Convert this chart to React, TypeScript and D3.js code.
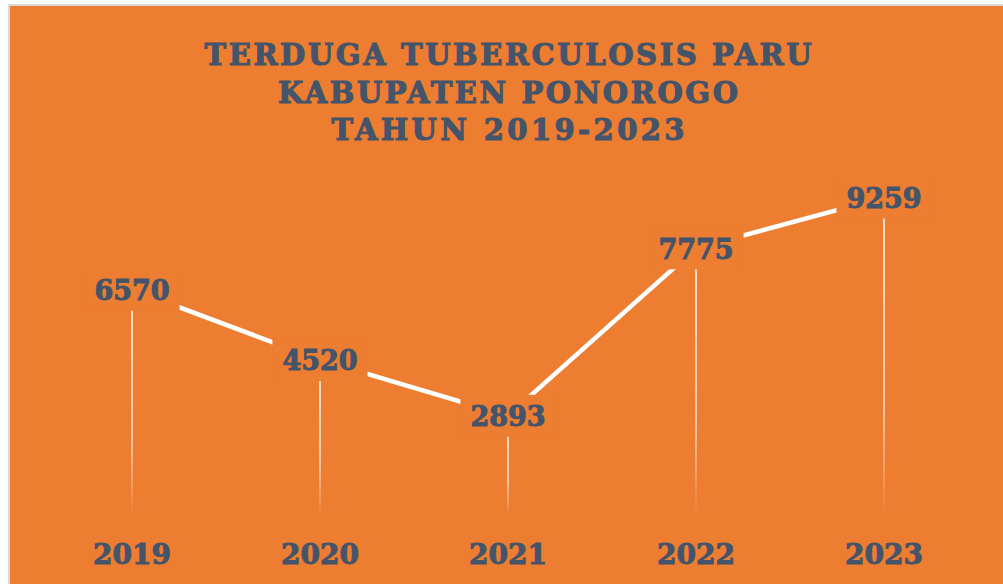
import * as d3 from 'd3';
import { useEffect, useRef } from 'react';

const years = ['2019', '2020', '2021', '2022', '2023'];
const values = [6570, 4520, 2893, 7775, 9259];
const titleLines = [
  'TERDUGA TUBERCULOSIS PARU',
  'KABUPATEN PONOROGO',
  'TAHUN 2019-2023',
];

const W = 1003;
const H = 584;
const ORANGE = '#ED7D31';
const INK = '#44546A';
const FONT = '"DejaVu Serif", serif';

export default function App() {
  const svgRef = useRef<SVGSVGElement>(null);

  useEffect(() => {
    if (!svgRef.current) return;
    const svg = d3.select(svgRef.current);
    svg.selectAll('*').remove();

    // chart frame
    svg.append('rect').attr('width', W).attr('height', H).attr('fill', '#fff');
    svg
      .append('rect')
      .attr('x', 9)
      .attr('y', 5)
      .attr('width', W)
      .attr('height', H)
      .attr('fill', ORANGE)
      .attr('stroke', '#d9d9d9')
      .attr('stroke-width', 2);

    const defs = svg.append('defs');
    const grad = defs
      .append('linearGradient')
      .attr('id', 'dropFade')
      .attr('x1', 0)
      .attr('y1', 0)
      .attr('x2', 0)
      .attr('y2', 1);
    grad.append('stop').attr('offset', '0%').attr('stop-color', '#fff').attr('stop-opacity', 0.85);
    grad.append('stop').attr('offset', '65%').attr('stop-color', '#fff').attr('stop-opacity', 0.65);
    grad.append('stop').attr('offset', '100%').attr('stop-color', '#fff').attr('stop-opacity', 0);

    // title
    const titleWidths = [607, 460, 353];
    svg
      .append('g')
      .selectAll('text')
      .data(titleLines)
      .enter()
      .append('text')
      .attr('x', 508)
      .attr('y', (_, i) => 65 + i * 37.5)
      .attr('text-anchor', 'middle')
      .attr('textLength', (_, i) => titleWidths[i])
      .attr('lengthAdjust', 'spacing')
      .style('font-family', FONT)
      .style('font-weight', 'bold')
      .style('font-size', '29px')
      .style('fill', INK)
      .style('stroke', INK)
      .style('stroke-width', 1.1)
      .text((d) => d);

    const x = d3.scalePoint().domain(years).range([38, 978]).padding(0.5);
    const y = d3.scaleLinear().domain([0, 10000]).range([515, 172]);

    const data = years.map((yr, i) => ({ yr, v: values[i] }));

    // drop lines
    svg
      .append('g')
      .selectAll('rect')
      .data(data)
      .enter()
      .append('rect')
      .attr('x', (d) => (x(d.yr) || 0) - 0.9)
      .attr('y', (d) => y(d.v))
      .attr('width', 1.8)
      .attr('height', (d) => y(0) - y(d.v))
      .attr('fill', 'url(#dropFade)');

    // line
    const line = d3
      .line<{ yr: string; v: number }>()
      .x((d) => x(d.yr) || 0)
      .y((d) => y(d.v));
    svg
      .append('path')
      .datum(data)
      .attr('d', line)
      .attr('fill', 'none')
      .attr('stroke', '#fff')
      .attr('stroke-width', 4.5);

    // data labels with orange boxes
    const labels = svg.append('g');
    data.forEach((d) => {
      const cx = x(d.yr) || 0;
      const cy = y(d.v);
      const g = labels.append('g');
      const t = g
        .append('text')
        .attr('x', cx)
        .attr('y', cy + 10.5)
        .attr('text-anchor', 'middle')
        .style('font-family', FONT)
        .style('font-weight', 'bold')
        .style('font-size', '27px')
        .style('fill', INK)
        .style('stroke', INK)
        .style('stroke-width', 1)
        .text(String(d.v));
      const bb = (t.node() as SVGTextElement).getBBox();
      g.insert('rect', 'text')
        .attr('x', cx - bb.width / 2 - 10)
        .attr('y', cy - 21)
        .attr('width', bb.width + 20)
        .attr('height', 42)
        .attr('fill', ORANGE);
    });

    // category axis labels
    svg
      .append('g')
      .selectAll('text')
      .data(years)
      .enter()
      .append('text')
      .attr('x', (d) => x(d) || 0)
      .attr('y', 564)
      .attr('text-anchor', 'middle')
      .style('font-family', FONT)
      .style('font-weight', 'bold')
      .style('font-size', '28px')
      .style('fill', INK)
      .style('stroke', INK)
      .style('stroke-width', 1)
      .text((d) => d);
  }, []);

  return (
    <div style={{ position: 'fixed', left: 0, top: 0, width: W, height: H }}>
      <svg ref={svgRef} width={W} height={H} viewBox={`0 0 ${W} ${H}`} style={{ display: 'block' }} />
    </div>
  );
}
